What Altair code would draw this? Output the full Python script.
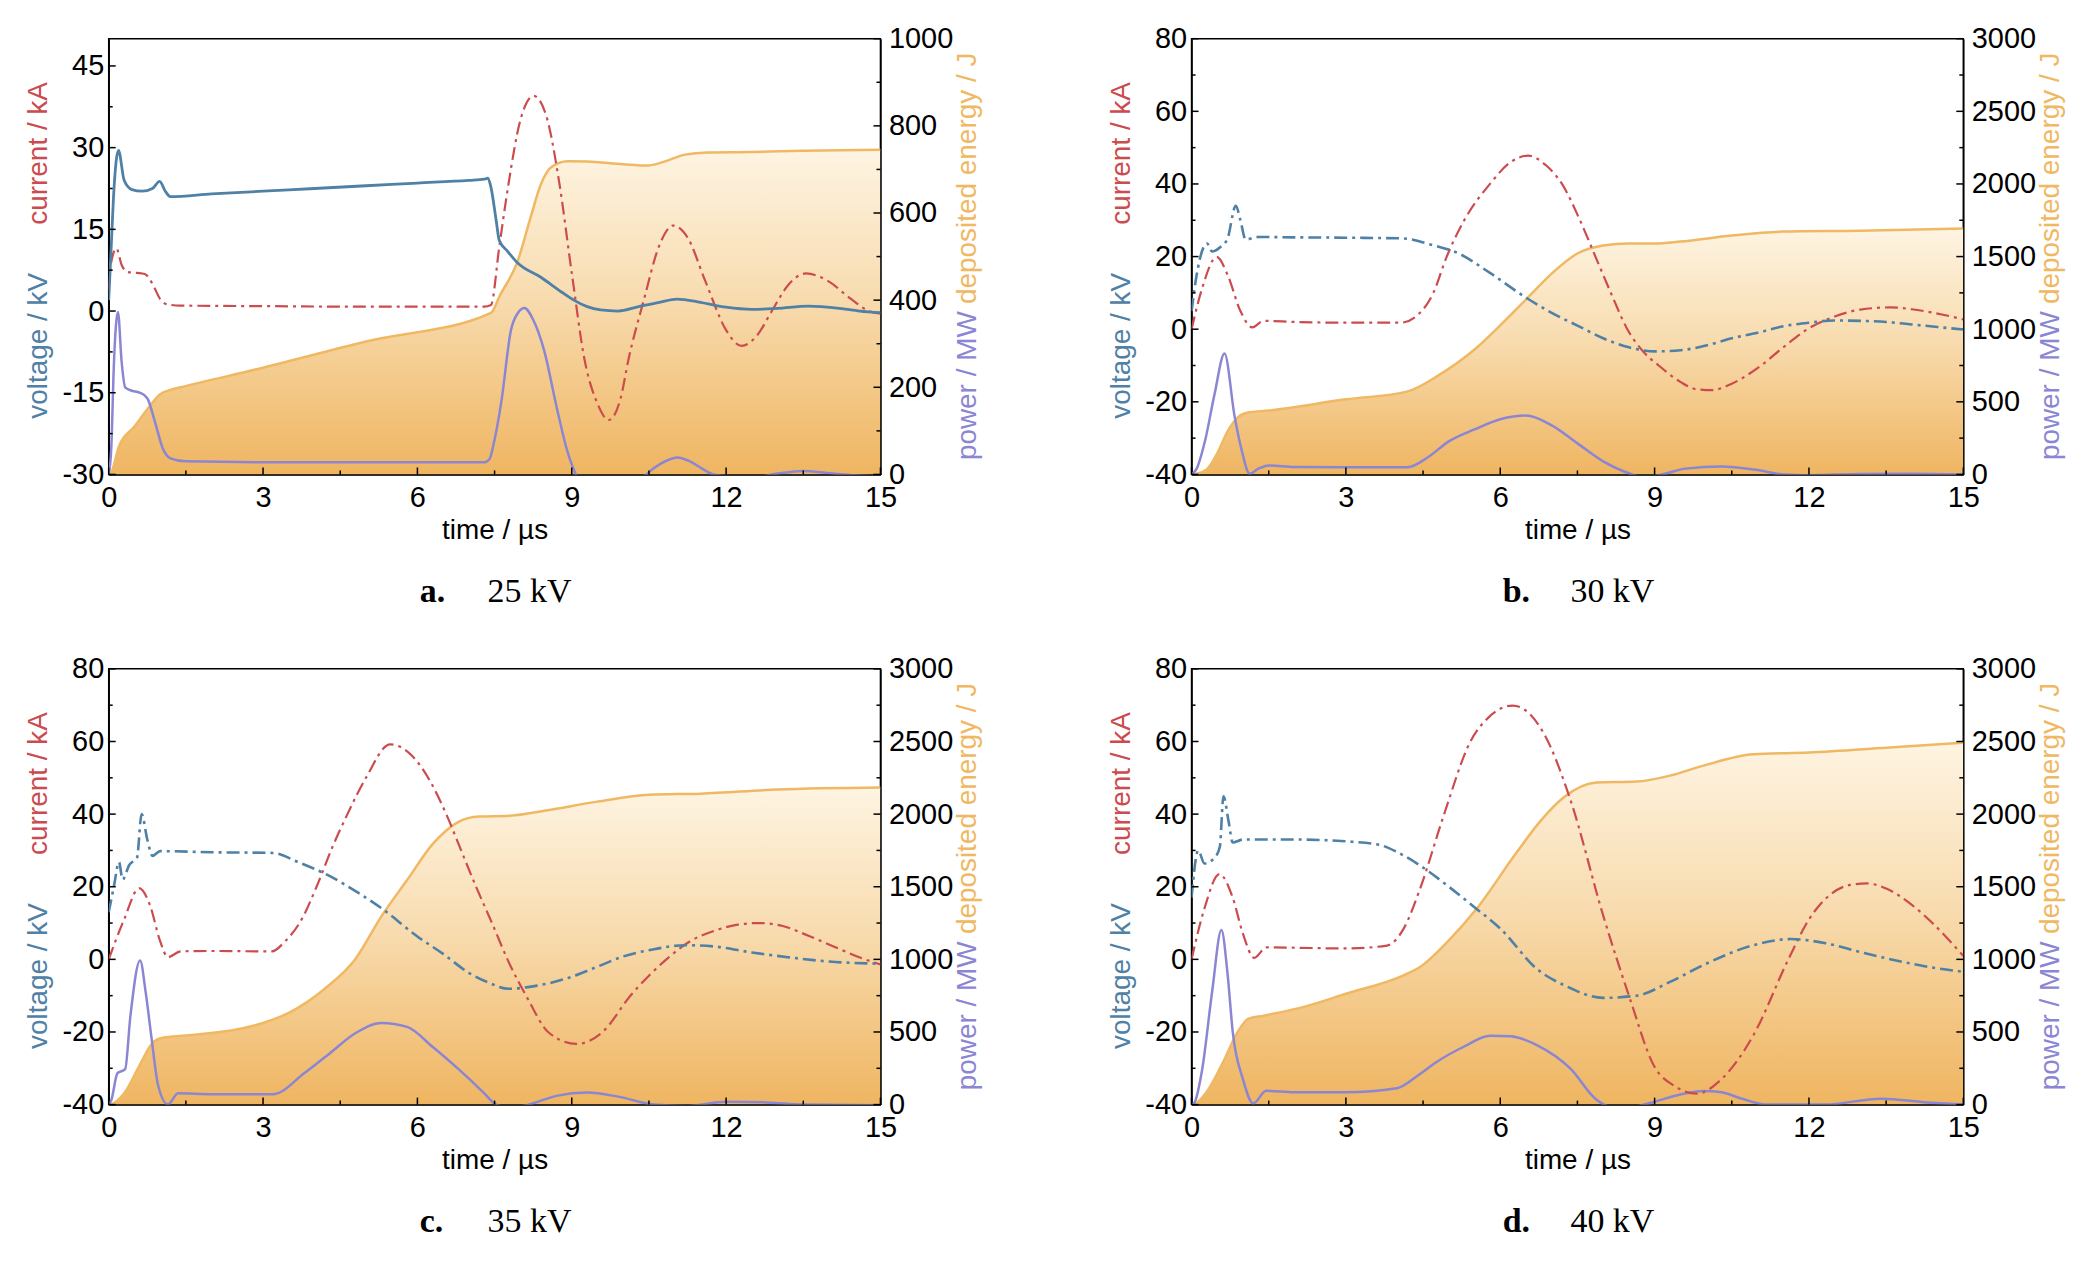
import altair as alt
import pandas as pd

# ---------------- data ----------------
# panel a : 25 kV
cur_a_t = [0, 0.05, 0.15, 0.25, 0.35, 0.55, 0.7, 0.85, 1.0, 1.15, 1.4, 3, 5, 7.3, 7.43, 7.59, 7.76, 8.0, 8.26, 8.5, 8.75, 9.0, 9.25, 9.5, 9.72, 9.95, 10.1, 10.4, 10.7, 10.97, 11.25, 11.6, 12.0, 12.3, 12.6, 12.9, 13.2, 13.55, 14.0, 14.4, 14.8, 15]
cur_a_v = [4, 9, 11.5, 8.5, 7.2, 7, 6.8, 5, 2.2, 1.2, 1.0, 0.9, 0.8, 0.8, 1.1, 11.7, 22.7, 35, 39.5, 36, 24, 7, -9, -17, -20, -16, -9, 2, 12, 15.7, 13.5, 5.4, -3.5, -6.4, -4.5, 0.2, 4.7, 6.9, 5.4, 2.4, -0.1, -0.5]
vol_a_t = [0, 0.05, 0.1, 0.19, 0.3, 0.45, 0.65, 0.85, 0.99, 1.1, 1.2, 2, 3, 4, 5, 6, 7, 7.3, 7.37, 7.43, 7.53, 7.59, 7.75, 7.95, 8.4, 8.8, 9.04, 9.3, 9.56, 9.9, 10.3, 10.7, 11.05, 11.5, 12.0, 12.5, 13.0, 13.6, 14.2, 14.6, 15]
vol_a_v = [2, 12, 22, 29.5, 24, 22.3, 22, 22.5, 23.8, 22, 21, 21.5, 22, 22.5, 23, 23.5, 24, 24.2, 24.4, 22.7, 16.7, 13, 11, 8.8, 6.2, 3.5, 2, 0.8, 0.2, 0, 0.8, 1.6, 2.2, 1.6, 0.7, 0.3, 0.5, 0.9, 0.5, 0, -0.3]
pow_a_t = [0, 0.05, 0.1, 0.18, 0.25, 0.32, 0.45, 0.6, 0.75, 0.9, 1.05, 1.2, 1.5, 3, 5, 7.3, 7.4, 7.5, 7.63, 7.82, 7.95, 8.08, 8.25, 8.46, 8.72, 8.91, 9.08, 9.25, 9.5, 10.0, 10.4, 10.6, 10.85, 11.05, 11.3, 11.55, 11.75, 12.5, 13.0, 13.5, 14.0, 14.5, 15]
pow_a_v = [0, 60, 250, 373, 260, 200, 192, 188, 175, 120, 60, 37, 30, 28, 28, 28, 35, 80, 166, 332, 370, 382, 355, 286, 147, 55, 0, -30, -50, -30, -5, 15, 32, 39, 30, 12, 0, -8, 2, 8, 3, -2, -5]
ene_a_t = [0, 0.05, 0.2, 0.5, 0.8, 1.0, 1.2, 1.4, 3, 5, 7.43, 7.6, 7.95, 8.2, 8.4, 8.6, 8.92, 9.3, 10.0, 10.47, 10.8, 11.2, 11.63, 12.5, 13.5, 15]
ene_a_v = [0, 5, 65, 110, 157, 184, 194, 200, 245, 305, 371, 410, 490, 590, 666, 705, 719, 718, 712, 709, 718, 734, 739, 740, 743, 745]

# panel b : 30 kV
cur_b_t = [0, 0.2, 0.49, 0.7, 0.95, 1.18, 1.4, 2, 3, 4.06, 4.4, 4.7, 4.96, 5.3, 5.8, 6.2, 6.54, 6.9, 7.2, 7.55, 7.85, 8.15, 8.47, 8.8, 9.08, 9.5, 9.8, 10.1, 10.5, 11.07, 11.5, 11.97, 12.5, 13.0, 13.58, 14.0, 14.5, 15]
cur_b_v = [0, 11, 19.9, 15, 5, 0.5, 2.3, 2.0, 1.8, 1.8, 4, 10, 20, 30, 40, 46, 47.8, 45, 40, 30, 20, 10, 0, -6.5, -10, -14.5, -16.5, -16.8, -15, -10, -5, 0, 3.5, 5.4, 6.0, 5.5, 4.3, 2.7]
vol_b_t = [0, 0.1, 0.3, 0.4, 0.55, 0.7, 0.86, 0.95, 1.05, 1.3, 2, 3, 4.12, 4.6, 5.2, 5.8, 6.5, 7.0, 7.5, 8.0, 8.5, 9.01, 9.5, 10, 10.5, 11, 11.5, 12, 12.49, 13, 13.5, 14, 14.5, 15]
vol_b_v = [5, 15, 23.6, 21.4, 22.5, 25, 34, 30, 24.7, 25.4, 25.3, 25.2, 25, 23.5, 20.8, 15.5, 8.7, 4.5, 1.0, -2.5, -5, -6.1, -5.8, -4.5, -2.5, -1, 0.8, 1.8, 2.4, 2.3, 2.0, 1.3, 0.6, -0.1]
pow_b_t = [0, 0.1, 0.26, 0.45, 0.64, 0.84, 0.97, 1.13, 1.3, 1.5, 2, 3, 4.2, 4.6, 5.0, 5.5, 6.0, 6.5, 7.0, 7.5, 8.0, 8.5, 8.8, 9.2, 9.6, 10.3, 11.0, 11.5, 12, 13, 14, 15]
pow_b_v = [0, 40, 228, 558, 833, 393, 173, 5, 40, 62, 52, 50, 50, 120, 228, 310, 380, 405, 338, 214, 90, 8, -20, 5, 40, 55, 30, 0, -5, 3, 5, 0]
ene_b_t = [0, 0.1, 0.3, 0.5, 0.7, 0.9, 1.1, 1.5, 3, 4.2, 4.8, 5.5, 6.0, 6.5, 7.0, 7.5, 8.0, 8.5, 9.0, 9.5, 10.5, 11.5, 13, 15]
ene_b_v = [0, 5, 36, 146, 297, 393, 426, 440, 517, 572, 682, 860, 1026, 1204, 1383, 1521, 1576, 1590, 1590, 1603, 1645, 1672, 1678, 1694]

# panel c : 35 kV
cur_c_t = [0, 0.3, 0.59, 0.8, 1.0, 1.15, 1.4, 2, 3.17, 3.43, 3.75, 4.04, 4.35, 4.64, 5.0, 5.47, 5.9, 6.25, 6.56, 6.85, 7.14, 7.45, 7.75, 8.15, 8.54, 9.09, 9.6, 10.14, 10.5, 10.84, 11.3, 11.8, 12.2, 12.63, 13.1, 13.6, 14.1, 14.6, 15]
cur_c_v = [0, 11, 19.6, 15, 5, 0.6, 2.2, 2.3, 2.2, 5, 11, 20, 31, 40, 50, 59.2, 56, 49, 40, 30, 20, 10, 0, -11, -20, -23.3, -20, -10, -4.5, 0, 5, 8, 9.5, 10, 9.2, 6.5, 3.5, 0.5, -1.4]
vol_c_t = [0, 0.1, 0.2, 0.27, 0.4, 0.55, 0.64, 0.75, 0.85, 1.0, 2, 3.2, 3.68, 4.3, 4.83, 5.3, 6.0, 6.5, 7.0, 7.4, 7.77, 8.3, 9.0, 9.5, 10.0, 10.6, 11.2, 11.8, 12.5, 13.2, 14.0, 15]
vol_c_v = [13, 20, 26.8, 22, 26, 28, 40, 33, 28.5, 29.8, 29.5, 29.3, 26.8, 22.9, 18.5, 14.1, 6.3, 1.5, -3.7, -6.5, -8.1, -7.3, -4.8, -2, 0.8, 2.8, 3.9, 3.5, 1.9, 0.6, -0.6, -1.2]
pow_c_t = [0, 0.05, 0.17, 0.32, 0.42, 0.61, 0.72, 0.83, 0.96, 1.15, 1.35, 2, 3.2, 3.8, 4.3, 4.8, 5.3, 5.8, 6.3, 6.8, 7.3, 7.5, 7.8, 8.16, 8.7, 9.3, 9.9, 10.6, 11.2, 12, 12.8, 13.5, 15]
pow_c_v = [0, 30, 216, 244, 604, 992, 770, 465, 133, 0, 78, 72, 72, 216, 354, 493, 562, 535, 396, 244, 78, 8, -25, 0, 60, 83, 55, 0, -10, 20, 15, 0, -5]
ene_c_t = [0, 0.05, 0.3, 0.6, 0.85, 1.05, 1.5, 3, 3.5, 4.2, 4.8, 5.3, 5.8, 6.3, 6.8, 7.2, 7.8, 8.5, 9.5, 10.5, 11.5, 13, 15]
ene_c_v = [0, 3, 78, 271, 424, 460, 475, 562, 632, 798, 1005, 1296, 1546, 1795, 1947, 1983, 1989, 2025, 2086, 2133, 2141, 2169, 2183]

# panel d : 40 kV
cur_d_t = [0, 0.25, 0.54, 0.8, 1.0, 1.22, 1.45, 2, 3, 3.8, 4.12, 4.44, 4.9, 5.41, 5.8, 6.24, 6.84, 7.36, 8.0, 8.52, 8.98, 9.4, 9.82, 10.3, 10.92, 11.6, 12.0, 12.43, 12.8, 13.13, 13.5, 14.0, 14.4, 15]
cur_d_v = [0, 14, 23.5, 17, 7, 0.4, 3.3, 3.2, 3.0, 3.8, 8.4, 19.4, 39.6, 59.7, 67, 69.9, 62.4, 44.1, 12.1, -10.8, -29.1, -35, -37, -33, -20.9, 0, 11, 18, 20.5, 20.9, 19.5, 15, 10, 0.95]
vol_d_t = [0, 0.13, 0.25, 0.45, 0.55, 0.62, 0.72, 0.8, 1.0, 2, 3, 3.66, 4.0, 4.63, 5.0, 5.54, 6.0, 6.71, 7.3, 8.0, 8.65, 9.3, 10.0, 10.92, 11.65, 12.3, 13.0, 13.5, 14.0, 14.5, 15]
vol_d_v = [17, 30, 26.4, 28, 31, 44.9, 38, 32.2, 33, 33, 32.5, 31.5, 29.5, 24, 20, 13.9, 8.5, -2.6, -7.5, -10.6, -10, -6.2, -1.2, 3.9, 5.6, 4.5, 2, 0.3, -1.2, -2.5, -3.4]
pow_d_t = [0, 0.05, 0.2, 0.4, 0.58, 0.7, 0.8, 1.0, 1.2, 1.45, 2, 3, 3.99, 4.4, 4.77, 5.3, 5.8, 6.2, 6.71, 7.36, 7.87, 8.2, 8.6, 9.0, 9.5, 9.95, 10.3, 10.7, 11.2, 12.3, 13.4, 14.3, 15]
pow_d_v = [0, 10, 228, 777, 1202, 900, 502, 173, 8, 95, 85, 85, 112, 200, 295, 400, 474, 470, 410, 249, 34, -20, -15, 20, 70, 94, 85, 40, 0, 0, 41, 15, 0]
ene_d_t = [0, 0.05, 0.3, 0.6, 0.9, 1.1, 1.4, 2.18, 3, 4.12, 4.44, 5.0, 5.54, 6.32, 6.8, 7.23, 7.87, 8.65, 9.3, 9.95, 10.92, 12, 13.5, 15]
ene_d_v = [0, 3, 91, 283, 502, 590, 612, 673, 763, 890, 947, 1130, 1348, 1737, 1960, 2114, 2217, 2224, 2265, 2334, 2412, 2424, 2457, 2492]

# tick values
x_major = [0, 3, 6, 9, 12, 15]
x_minor = [1.5, 4.5, 7.5, 10.5, 13.5]
left_major_a = [-30, -15, 0, 15, 30, 45]
left_minor_a = [-22.5, -7.5, 7.5, 22.5, 37.5]
right_major_a = [0, 200, 400, 600, 800, 1000]
right_minor_a = [100, 300, 500, 700, 900]
left_major = [-40, -20, 0, 20, 40, 60, 80]
left_minor = [-30, -10, 10, 30, 50, 70]
right_major = [0, 500, 1000, 1500, 2000, 2500, 3000]
right_minor = [250, 750, 1250, 1750, 2250, 2750]

captions = [("a.", "25 kV"), ("b.", "30 kV"), ("c.", "35 kV"), ("d.", "40 kV")]

# ---------------- styling ----------------
W, H = 774, 437
RED = "#cc4b4e"
BLUE = "#4f80a5"
PURPLE = "#8b86d3"
ORANGE = "#f0b862"
SANS = "Liberation Sans, Arial, Helvetica, sans-serif"
SERIF = "Liberation Serif, Times New Roman, serif"
DASHDOT = [13, 5, 3, 5]
LABEL_EXPR = "datum.value < 0 ? '-' + format(-datum.value, 'd') : format(datum.value, 'd')"

one = pd.DataFrame({"k": [0]})


def frame(t, v):
    return pd.DataFrame({"t": t, "v": v})


def panel(cur, vol, pw, en, ldom, rdom, lmaj, lmin, rmaj, rmin, cap, vol_solid=False):
    xs = alt.Scale(domain=[0, 15], nice=False, zero=False)
    ls = alt.Scale(domain=ldom, nice=False, zero=False)
    rs = alt.Scale(domain=rdom, nice=False, zero=False)
    xax = alt.Axis(values=x_major, title="time / µs", labelExpr=LABEL_EXPR,
                   labelPadding=9, titlePadding=4)
    lax = alt.Axis(values=lmaj, orient="left", title=None, labelExpr=LABEL_EXPR,
                   labelPadding=5)
    rax = alt.Axis(values=rmaj, orient="right", title=None, labelExpr=LABEL_EXPR,
                   labelPadding=8)

    X = alt.X("t:Q", scale=xs, axis=xax)
    YL = alt.Y("v:Q", scale=ls, axis=lax)
    YR = alt.Y("v:Q", scale=rs, axis=rax)

    grad = alt.Gradient(
        gradient="linear",
        stops=[alt.GradientStop(offset=0, color="#fef4e2"),
               alt.GradientStop(offset=0.45, color="#f8dcb0"),
               alt.GradientStop(offset=1, color="#efb561")],
        x1=1, x2=1, y1=0, y2=1)

    area = alt.Chart(frame(*en)).mark_area(color=grad, interpolate="monotone", clip=True).encode(x=X, y=YR)
    eline = alt.Chart(frame(*en)).mark_line(color=ORANGE, strokeWidth=2.5, interpolate="monotone", clip=True).encode(x=X, y=YR)
    pline = alt.Chart(frame(*pw)).mark_line(color=PURPLE, strokeWidth=2.5, interpolate="monotone", clip=True).encode(x=X, y=YR)

    def yticks(vals, scale_y, side, length):
        d = pd.DataFrame({"v": vals})
        if side == "left":
            xv, x2v = 0, length
        else:
            xv, x2v = W, W - length
        return alt.Chart(d).mark_rule(color="black", strokeWidth=1.5).encode(
            y=scale_y, x=alt.value(xv), x2=alt.value(x2v))

    def xticks(vals, length):
        d = pd.DataFrame({"t": vals})
        return alt.Chart(d).mark_rule(color="black", strokeWidth=1.5).encode(
            x=X, y=alt.value(H), y2=alt.value(H - length))

    right = alt.layer(area, eline, pline,
                      yticks(rmaj, YR, "right", 7), yticks(rmin, YR, "right", 4))

    cline = alt.Chart(frame(*cur)).mark_line(color=RED, strokeWidth=2.2, strokeDash=DASHDOT,
                                            interpolate="monotone", clip=True).encode(x=X, y=YL)
    if vol_solid:
        vline = alt.Chart(frame(*vol)).mark_line(color=BLUE, strokeWidth=2.8,
                                                interpolate="monotone", clip=True).encode(x=X, y=YL)
    else:
        vline = alt.Chart(frame(*vol)).mark_line(color=BLUE, strokeWidth=2.6, strokeDash=DASHDOT,
                                                interpolate="monotone", clip=True).encode(x=X, y=YL)
    left = alt.layer(cline, vline,
                     yticks(lmaj, YL, "left", 7), yticks(lmin, YL, "left", 4),
                     xticks(x_major, 7), xticks(x_minor, 4))

    def txt(s, x, y, color, angle=0, font=SANS, size=28, weight="normal", align="center",
            baseline="middle"):
        return alt.Chart(one).mark_text(text=s, angle=angle, font=font, fontSize=size,
                                        fontWeight=weight, color=color, align=align,
                                        baseline=baseline).encode(x=alt.value(x), y=alt.value(y))

    notes = alt.layer(
        txt("current / kA", -70, 115, RED, angle=270),
        txt("voltage / kV", -70, 308, BLUE, angle=270),
        txt("deposited energy / J", W + 88, 140, ORANGE, angle=270),
        txt("power / MW", W + 88, 348, PURPLE, angle=270),
        txt(cap[0], 312, 565, "black", font=SERIF, size=34, weight="bold", align="left",
            baseline="alphabetic"),
        txt(cap[1], 380, 565, "black", font=SERIF, size=34, align="left",
            baseline="alphabetic"),
    )

    return alt.layer(right, left, notes).resolve_scale(y="independent").properties(width=W, height=H)


pa = panel((cur_a_t, cur_a_v), (vol_a_t, vol_a_v), (pow_a_t, pow_a_v), (ene_a_t, ene_a_v),
           [-30, 50], [0, 1000], left_major_a, left_minor_a, right_major_a, right_minor_a,
           captions[0], vol_solid=True)
pb = panel((cur_b_t, cur_b_v), (vol_b_t, vol_b_v), (pow_b_t, pow_b_v), (ene_b_t, ene_b_v),
           [-40, 80], [0, 3000], left_major, left_minor, right_major, right_minor, captions[1])
pc = panel((cur_c_t, cur_c_v), (vol_c_t, vol_c_v), (pow_c_t, pow_c_v), (ene_c_t, ene_c_v),
           [-40, 80], [0, 3000], left_major, left_minor, right_major, right_minor, captions[2])
pd_ = panel((cur_d_t, cur_d_v), (vol_d_t, vol_d_v), (pow_d_t, pow_d_v), (ene_d_t, ene_d_v),
            [-40, 80], [0, 3000], left_major, left_minor, right_major, right_minor, captions[3])

chart = alt.vconcat(
    alt.hconcat(pa, pb, spacing=124),
    alt.hconcat(pc, pd_, spacing=124),
    spacing=44,
).properties(
    padding={"left": 16, "top": 14, "right": 0, "bottom": 0},
    background="white",
).configure_view(
    stroke="black", strokeWidth=1.5
).configure_axis(
    grid=False, ticks=False, labelFont=SANS, labelFontSize=29, labelColor="black",
    domainColor="black", domainWidth=1.5, titleFont=SANS, titleFontSize=28,
    titleFontWeight="normal", titleColor="black", labelFlush=False
)

chart.save("out.html", embed_options={"renderer": "svg", "actions": False})
